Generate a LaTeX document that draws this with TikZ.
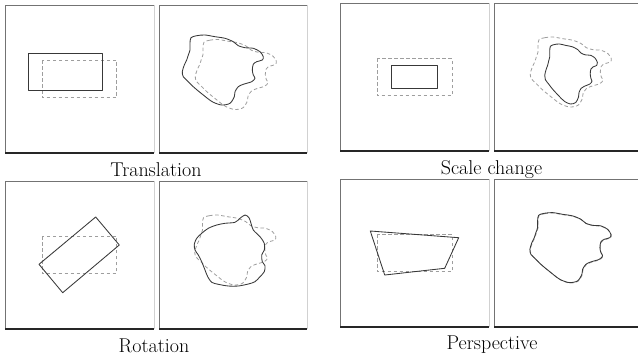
\documentclass[tikz,border=0pt]{standalone}
\begin{document}
\begin{tikzpicture}[x=1pt,y=-1pt,
  solidline/.style={draw=black!78,line width=0.85pt,line join=round},
  dashline/.style={draw=black!38,line width=0.8pt,dash pattern=on 3.5pt off 2.5pt},
  tledge/.style={draw=black!55,line width=0.7pt},
  redge/.style={draw=black!18,line width=0.7pt},
  bedge/.style={draw=black!85,line width=1.1pt},
  caption/.style={font=\fontsize{20}{24}\selectfont,anchor=base,inner sep=0pt},
  blob/.pic={\path[pic actions] plot[smooth cycle,tension=0.5] coordinates {
    (-42,-41.3) (-36.3,-43.3) (-28,-44) (-18,-42.3) (-8,-40.7) (0.3,-37.3)
    (5.3,-33.3) (12,-31.3) (20.3,-30.7) (27,-27.3) (30.3,-22.3) (29.3,-19)
    (23.7,-17.3) (20.3,-14.7) (19.3,-9) (20.3,-4) (22,-0.7) (18.7,2.7)
    (10.3,5.3) (5.3,7.7) (2,12.7) (1.3,17.7) (-3,24.3) (-11.3,26)
    (-19.7,23.3) (-24.7,20) (-29.7,16) (-34.7,12) (-39.7,7.7) (-44.7,2.7)
    (-49.7,-2.3) (-50.7,-7.3) (-48.7,-14) (-46.3,-19) (-44.7,-24) (-43,-29)
    (-43,-35.7)};}
]
\useasboundingbox (0,0) rectangle (638,362);
\clip (0,0) rectangle (638,362);
\fill[white] (0,0) rectangle (638,362);
\newcommand\drawpanel[4]{%
  \draw[redge] (#3,#2) -- (#3,#4);
  \draw[tledge] (#1,#4) -- (#1,#2) -- (#3,#2);
  \draw[bedge] (#1,#4) -- (#3,#4);}
% panels
\drawpanel{5}{5}{154}{153}
\drawpanel{159}{5}{307}{153}
\drawpanel{340}{3}{489}{151}
\drawpanel{494}{3}{643}{151}
\drawpanel{5}{181}{154}{329}
\drawpanel{159}{181}{307}{329}
\drawpanel{340}{179}{489}{327}
\drawpanel{494}{179}{643}{327}
% Translation
\draw[dashline] (42,60.3) rectangle (116.7,97.7);
\draw[solidline] (28.3,53.3) rectangle (102.7,90.3);
\pic[dashline] at (246,83.5) {blob};
\pic[solidline] at (233,79) {blob};
% Scale change
\draw[dashline] (377,58.3) rectangle (452,95.7);
\draw[solidline] (391,65) rectangle (437.7,88.7);
\pic[dashline] at (581,81) {blob};
\pic[solidline,xscale=0.65,yscale=0.857] at (577.7,81.7) {blob};
% Rotation
\draw[dashline] (42,236) rectangle (116.7,273.3);
\draw[solidline] (95.7,217) -- (119.3,245) -- (62.7,292.7) -- (39,264.3) -- cycle;
\pic[dashline] at (245.5,259) {blob};
\draw[solidline] plot[smooth cycle,tension=0.5] coordinates {
  (235,222.3) (240,218.3) (245,215) (249,217.7) (251,223.3) (253.3,230)
  (260,236.7) (264.3,243.3) (264.3,250) (261.7,255) (262.3,261.7) (265,265.7)
  (264.3,271.7) (260,276.7) (255,281.7) (248.3,284) (238.3,286) (228.3,286)
  (218.3,284.3) (211.7,282.3) (207.7,276.7) (205,270) (201.7,261.7) (198.3,255)
  (195,250) (194.3,244.3) (196.7,238.3) (201.7,233.3) (208.3,228.3) (216.7,225)
  (225,223.3)};
% Perspective
\draw[dashline] (377,234.3) rectangle (452,271.7);
\draw[solidline] (370.3,231) -- (458.7,237.7) -- (444.7,268.3) -- (384.7,275) -- cycle;
\pic[dashline] at (581,257) {blob};
\pic[solidline] at (580.6,256.6) {blob};
% captions
\node[caption] (t1) at (156,176) {Translation};
\node[caption] (t2) at (491.5,174) {Scale change};
\node[caption] (t3) at (154,352) {Rotation};
\node[caption] (t4) at (492,349) {Perspective};
\end{tikzpicture}
\end{document}
